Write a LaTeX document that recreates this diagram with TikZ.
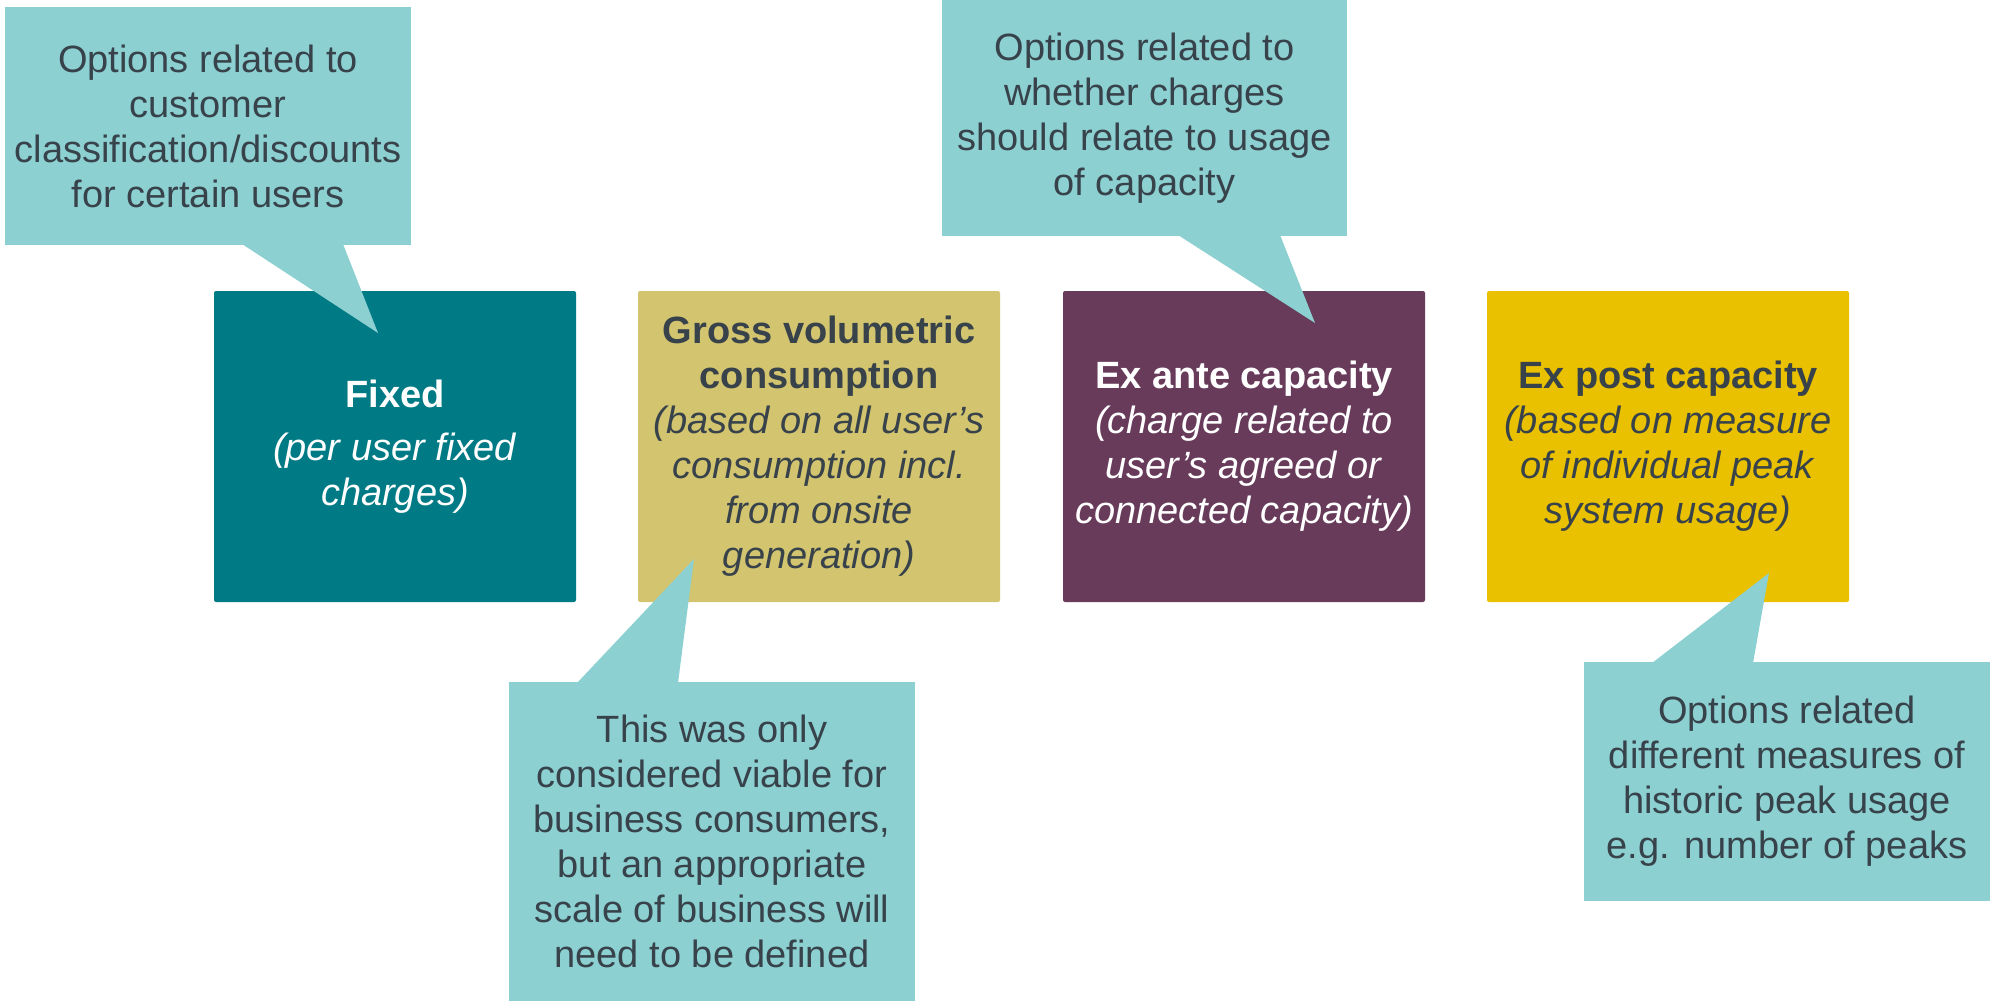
\documentclass[tikz,border=0pt]{standalone}
\usepackage{fontspec}
\setmainfont{Liberation Sans}
\definecolor{calloutfill}{HTML}{8CD0D1}
\definecolor{txtdark}{HTML}{37424A}
\definecolor{fixedfill}{HTML}{007A85}
\definecolor{grossfill}{HTML}{D3C470}
\definecolor{antefill}{HTML}{683B5B}
\definecolor{postfill}{HTML}{E9C100}
\tikzset{
  chargebox/.style={rectangle, rounded corners=1pt, inner sep=0pt, align=center,
    minimum width=181pt, minimum height=155.5pt, font=\fontsize{19}{22.5}\selectfont},
  calloutbox/.style={rectangle, fill=calloutfill, inner sep=0pt, align=center,
    text=txtdark, font=\fontsize{19}{22.5}\selectfont},
  callouttail/.style={fill=calloutfill}
}
\begin{document}
\begin{tikzpicture}[x=0.5pt, y=-0.5pt]
  \useasboundingbox (0,0) rectangle (1993,1001);

  % the four charge types
  \node[chargebox, fill=fixedfill, text=white] (fixed) at (395,446.5)
    {\textbf{Fixed}\\[4pt] \textit{(per user fixed}\\ \textit{charges)}};
  \node[chargebox, fill=grossfill, text=txtdark] (gross) at (819,446.5)
    {\textbf{Gross volumetric}\\ \textbf{consumption}\\ \textit{(based on all user’s}\\ \textit{consumption incl.}\\ \textit{from onsite}\\ \textit{generation)}};
  \node[chargebox, fill=antefill, text=white] (exante) at (1244,446.5)
    {\textbf{Ex ante capacity}\\ \textit{(charge related to}\\ \textit{user’s agreed or}\\ \textit{connected capacity)}};
  \node[chargebox, fill=postfill, text=txtdark] (expost) at (1668,446.5)
    {\textbf{Ex post capacity}\\ \textit{(based on measure}\\ \textit{of individual peak}\\ \textit{system usage)}};

  % callout: customer classification
  \node[calloutbox, minimum width=203pt, minimum height=119pt] (noteA) at (208,126)
    {Options related to\\ customer\\ classification/discounts\\ for certain users};
  \coordinate (tipA) at (378,333);
  \fill[callouttail] (242,244) -- (343,244) -- (tipA) -- cycle;

  % callout: usage of capacity
  \node[calloutbox, minimum width=202.5pt, minimum height=118pt] (noteB) at (1144.5,118)
    {Options related to\\ whether charges\\ should relate to usage\\ of capacity};
  \coordinate (tipB) at (1315,323);
  \fill[callouttail] (1178,235) -- (1280,235) -- (tipB) -- cycle;

  % callout: business consumers
  \node[calloutbox, minimum width=203pt, minimum height=159.5pt] (noteC) at (712,841.5)
    {This was only\\ considered viable for\\ business consumers,\\ but an appropriate\\ scale of business will\\ need to be defined};
  \coordinate (tipC) at (694,559);
  \fill[callouttail] (577,683) -- (678,683) -- (tipC) -- cycle;

  % callout: historic peak usage
  \node[calloutbox, minimum width=203pt, minimum height=119.5pt] (noteD) at (1787,781.5)
    {Options related\\ different measures of\\ historic peak usage\\ e.g. number of peaks};
  \coordinate (tipD) at (1769,573);
  \fill[callouttail] (1652,663) -- (1753,663) -- (tipD) -- cycle;
\end{tikzpicture}
\end{document}
